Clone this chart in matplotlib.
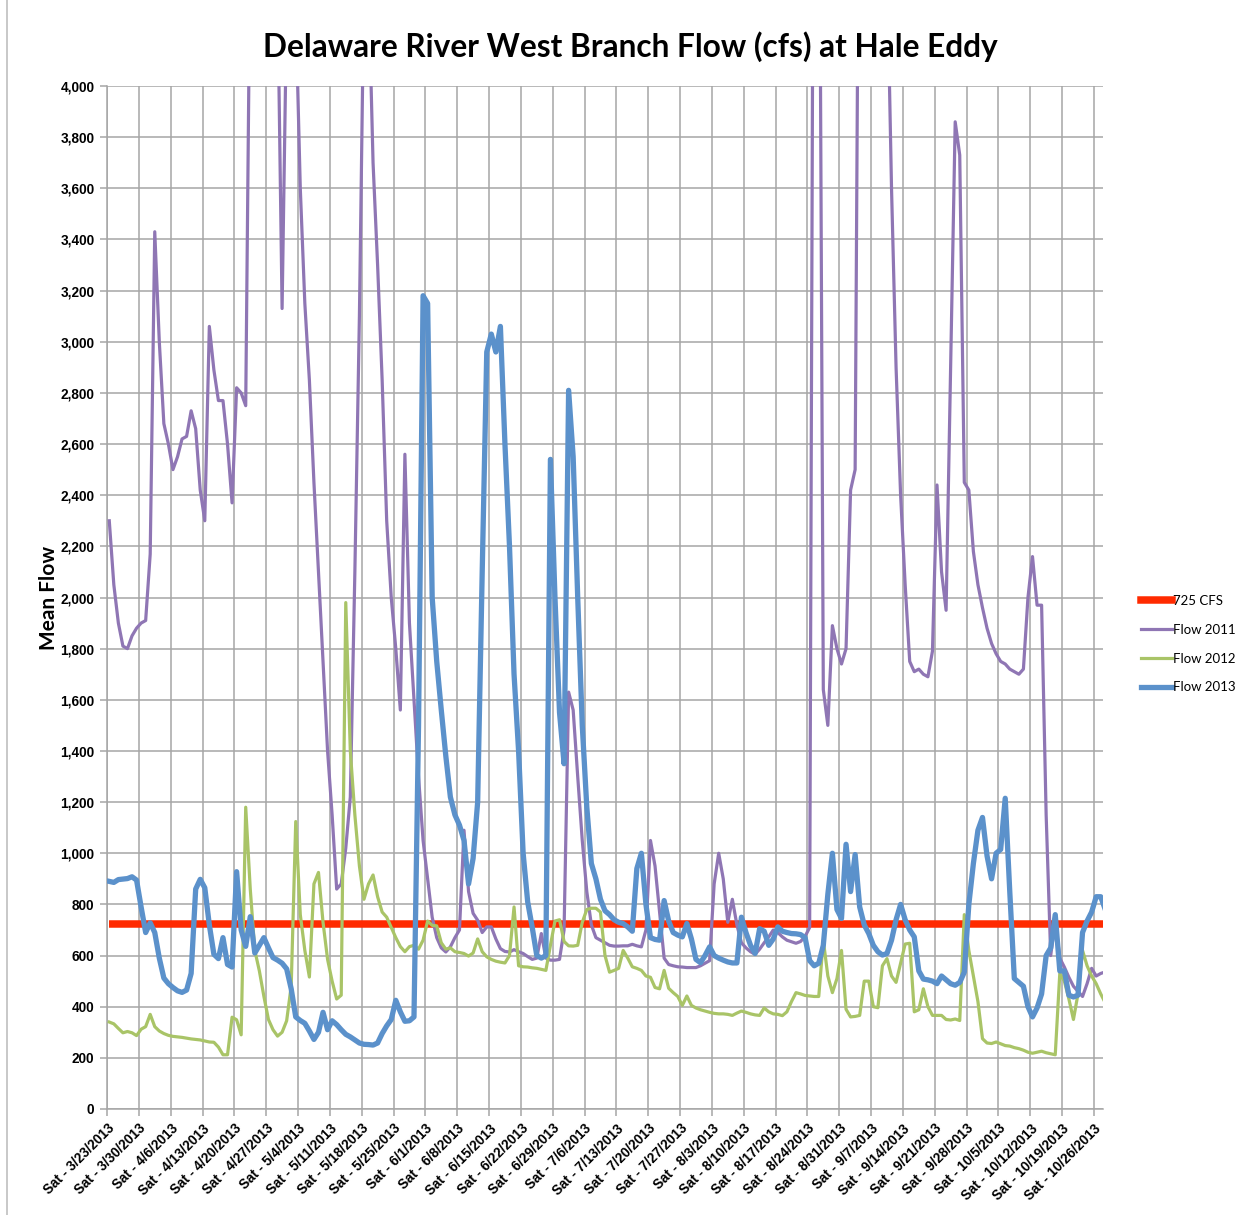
import numpy as np
import matplotlib.pyplot as plt
from matplotlib.lines import Line2D
from matplotlib.ticker import FuncFormatter

# daily mean flow, Sat 3/23/2013 .. Mon 10/28/2013 (220 days)
flow_2013 = [
    890, 886, 897, 899, 901, 908, 895,
    790, 690, 728, 690, 590, 512, 490,
    475, 462, 456, 465, 530, 860, 898,
    865, 720, 605, 588, 670, 565, 555,
    928, 700, 636, 752, 610, 640, 670,
    630, 592, 582, 570, 548, 470, 360,
    346, 335, 305, 272, 300, 378, 310,
    345, 330, 310, 292, 282, 270, 258,
    253, 252, 250, 258, 295, 325, 350,
    425, 380, 343, 345, 360, 1500, 3180,
    3150, 2000, 1750, 1560, 1380, 1220, 1150,
    1110, 1050, 880, 980, 1200, 2100, 2960,
    3030, 2960, 3060, 2600, 2200, 1700, 1400,
    1000, 810, 710, 600, 590, 600, 2540,
    2000, 1550, 1350, 2810, 2550, 2000, 1500,
    1180, 960, 900, 820, 775, 760, 740,
    730, 725, 712, 695, 940, 1000, 800,
    670, 663, 660, 815, 735, 690, 680,
    673, 725, 665, 585, 572, 600, 634,
    600, 590, 582, 575, 571, 571, 750,
    690, 640, 608, 705, 695, 640, 665,
    712, 695, 690, 686, 685, 682, 670,
    580, 560, 570, 640, 840, 1000, 780,
    745, 1035, 850, 995, 790, 720, 686,
    640, 615, 602, 608, 660, 740, 800,
    740, 700, 673, 540, 508, 505, 500,
    490, 520, 505, 490, 484, 495, 535,
    800, 960, 1090, 1140, 990, 900, 1000,
    1015, 1215, 850, 510, 495, 480, 400,
    360, 395, 450, 600, 630, 760, 540,
    540, 445, 438, 445, 690, 735, 770,
    830, 830, 780,
]

flow_2012 = [
    340, 333, 315, 298, 303, 298, 287,
    312, 322, 370, 322, 305, 295, 288,
    284, 282, 280, 277, 274, 272, 270,
    266, 262, 261, 242, 212, 212, 359,
    349, 290, 1180, 860, 620, 540, 440,
    350, 310, 285, 300, 345, 480, 1124,
    760, 620, 516, 880, 925, 730, 585,
    500, 430, 445, 1980, 1400, 1150, 950,
    820, 880, 915, 830, 770, 750, 710,
    670, 635, 615, 635, 640, 625, 660,
    735, 718, 716, 650, 625, 630, 615,
    612, 608, 598, 610, 665, 615, 595,
    585, 578, 574, 571, 600, 790, 560,
    556, 555, 552, 550, 546, 542, 640,
    735, 740, 655, 638, 637, 640, 730,
    780, 785, 785, 770, 600, 535, 542,
    550, 620, 590, 556, 550, 542, 520,
    515, 475, 470, 542, 472, 455, 440,
    405, 442, 405, 395, 388, 383, 378,
    374, 372, 372, 370, 366, 375, 383,
    378, 372, 368, 366, 395, 380, 372,
    370, 365, 380, 420, 455, 450, 444,
    442, 440, 440, 660, 520, 455, 510,
    620, 390, 360, 362, 366, 500, 500,
    400, 396, 560, 588, 520, 495, 570,
    645, 648, 380, 388, 470, 400, 366,
    366, 366, 350, 348, 352, 346, 760,
    620, 520, 420, 275, 258, 256, 262,
    255, 248, 246, 240, 236, 230, 222,
    218, 222, 226, 220, 216, 212, 530,
    500, 430, 350, 450, 620, 560, 520,
    490, 450, 415,
]

flow_2011 = [
    2300, 2050, 1900, 1810, 1800, 1850, 1880,
    1900, 1910, 2170, 3430, 3000, 2680, 2600,
    2500, 2550, 2620, 2630, 2730, 2660, 2420,
    2300, 3060, 2890, 2770, 2770, 2600, 2370,
    2820, 2800, 2750, 4600, 5500, 6000, 5800,
    5200, 4800, 4400, 3130, 4300, 4900, 4300,
    3600, 3150, 2850, 2450, 2100, 1750, 1400,
    1150, 860, 880, 1020, 1220, 2100, 3100,
    4400, 4400, 3700, 3300, 2850, 2300, 2000,
    1800, 1560, 2560, 1900, 1600, 1300, 1050,
    900, 750, 670, 630, 614, 634, 670,
    700, 1090, 850, 765, 738, 690, 712,
    712, 665, 627, 616, 614, 623, 615,
    608, 596, 585, 590, 686, 590, 582,
    582, 585, 700, 1630, 1560, 1300, 1050,
    850, 720, 670, 660, 650, 640, 637,
    637, 638, 638, 644, 638, 634, 700,
    1050, 950, 770, 590, 565, 560, 556,
    555, 553, 553, 553, 560, 570, 580,
    880, 1000, 900, 730, 820, 720, 650,
    630, 615, 605, 625, 650, 673, 700,
    690, 673, 660, 654, 648, 655, 675,
    710, 6000, 5500, 1640, 1500, 1890, 1800,
    1740, 1800, 2420, 2500, 5500, 6000, 6500,
    6000, 5500, 5000, 4500, 3600, 2900, 2400,
    2050, 1750, 1710, 1720, 1700, 1690, 1790,
    2440, 2100, 1950, 2900, 3860, 3730, 2450,
    2420, 2180, 2050, 1960, 1880, 1820, 1780,
    1750, 1740, 1720, 1710, 1700, 1720, 2000,
    2160, 1970, 1970, 1150, 600, 740, 590,
    555, 515, 480, 460, 440, 490, 550,
    520, 530, 536,
]

target_cfs = [725] * len(flow_2013)

week_labels = [
    "Sat - 3/23/2013", "Sat - 3/30/2013", "Sat - 4/6/2013", "Sat - 4/13/2013",
    "Sat - 4/20/2013", "Sat - 4/27/2013", "Sat - 5/4/2013", "Sat - 5/11/2013",
    "Sat - 5/18/2013", "Sat - 5/25/2013", "Sat - 6/1/2013", "Sat - 6/8/2013",
    "Sat - 6/15/2013", "Sat - 6/22/2013", "Sat - 6/29/2013", "Sat - 7/6/2013",
    "Sat - 7/13/2013", "Sat - 7/20/2013", "Sat - 7/27/2013", "Sat - 8/3/2013",
    "Sat - 8/10/2013", "Sat - 8/17/2013", "Sat - 8/24/2013", "Sat - 8/31/2013",
    "Sat - 9/7/2013", "Sat - 9/14/2013", "Sat - 9/21/2013", "Sat - 9/28/2013",
    "Sat - 10/5/2013", "Sat - 10/12/2013", "Sat - 10/19/2013", "Sat - 10/26/2013",
]

C_RED = "#ff2a00"
C_PURPLE = "#8f76b4"
C_GREEN = "#a9c467"
C_BLUE = "#5b91cb"
C_GRID = "#a6a6a6"

W, H = 1249, 1215
fig = plt.figure(figsize=(W / 100, H / 100), dpi=100)
ax = fig.add_axes([107 / W, 1 - 1109 / H, 996 / W, 1023 / H])

# daily readings are plotted at mid-day, week ticks sit on the day boundary
days = np.arange(len(flow_2013)) + 0.5
ax.plot(days, target_cfs, color=C_RED, lw=5.4, solid_capstyle="butt", zorder=2)
ax.plot(days, flow_2011, color=C_PURPLE, lw=2.3, zorder=3)
ax.plot(days, flow_2012, color=C_GREEN, lw=2.3, zorder=4)
ax.plot(days, flow_2013, color=C_BLUE, lw=3.8, zorder=5)

ax.set_xlim(0, len(days) - 1)
ax.set_ylim(0, 4000)
ax.set_yticks(np.arange(0, 4001, 200))
ax.yaxis.set_major_formatter(FuncFormatter(lambda v, p: f"{int(v):,}"))
ax.set_xticks(np.arange(0, len(days), 7))
ax.set_xticklabels(week_labels, rotation=45, ha="right", va="top",
                   rotation_mode="anchor")

ax.grid(True, color=C_GRID, lw=1.1)
ax.set_axisbelow(True)
for s in ("top", "right"):
    ax.spines[s].set_visible(False)
for s in ("left", "bottom"):
    ax.spines[s].set_color(C_GRID)
    ax.spines[s].set_linewidth(1.1)
ax.tick_params(axis="both", direction="out", length=5, width=1.1, color=C_GRID)
ax.tick_params(axis="y", pad=4)
ax.tick_params(axis="x", pad=4)
for lab in ax.get_xticklabels() + ax.get_yticklabels():
    lab.set_fontfamily("Liberation Sans")
    lab.set_fontweight("bold")
    lab.set_fontsize(9.8)

ax.set_ylabel("Mean Flow", fontfamily="Lato", fontweight="bold", fontsize=15,
              labelpad=1)
fig.text(630 / W, 1 - 47 / H, "Delaware River West Branch Flow (cfs) at Hale Eddy",
         ha="center", va="center", fontfamily="Lato", fontweight="bold",
         fontsize=22.8)

handles = [
    Line2D([], [], color=C_RED, lw=5.4),
    Line2D([], [], color=C_PURPLE, lw=2.3),
    Line2D([], [], color=C_GREEN, lw=2.3),
    Line2D([], [], color=C_BLUE, lw=3.8),
]
fig.legend(handles, ["725 CFS", "Flow 2011", "Flow 2012", "Flow 2013"],
           loc="upper left", bbox_to_anchor=(1141 / W, 1 - 595 / H),
           frameon=False, prop={"family": "Lato", "size": 9.5},
           handlelength=2.35, handletextpad=0.05, labelspacing=1.27,
           borderpad=0, borderaxespad=0)

# thin frame line down the left edge of the chart area
fig.add_artist(Line2D([7 / W, 7 / W], [0, 1], color="#bfbfbf", lw=1.2))

fig.savefig("out.png", dpi=100)
